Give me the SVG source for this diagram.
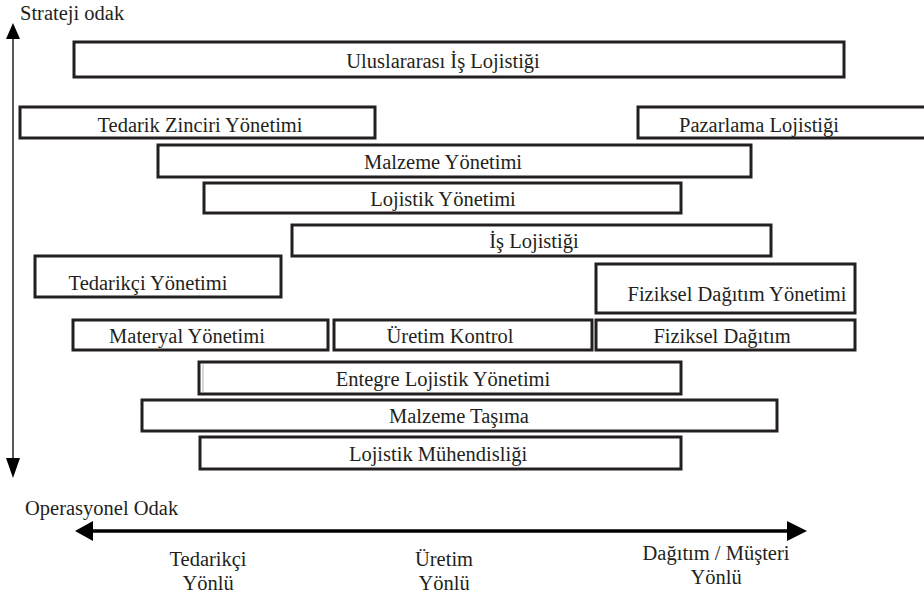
<svg xmlns="http://www.w3.org/2000/svg" width="924" height="595" viewBox="0 0 924 595">
<style>
.box{fill:none;stroke:#231f20;stroke-width:3}
text{font-family:"Liberation Serif",Tinos,"Times New Roman","DejaVu Serif",serif;font-size:20.5px;fill:#231f20}
.t{text-anchor:middle}
</style>
<g id="connectors">
<line x1="13" y1="38" x2="13" y2="458" stroke="#231f20" stroke-width="1.5"/>
<path d="M13,23 L6,39 L20,39 z" fill="#000"/>
<path d="M13,478 L6,458 L20,458 z" fill="#000"/>
<line x1="90" y1="531" x2="790" y2="531" stroke="#000" stroke-width="3.5"/>
<path d="M75,531 L93,521 L93,541 z" fill="#000"/>
<path d="M807,531 L787,521 L787,541 z" fill="#000"/>
</g>
<text x="20" y="20">Strateji odak</text>
<text x="25" y="515">Operasyonel Odak</text>
<g id="n1"><rect class="box" x="74" y="42" width="770" height="35"/><text class="t" x="443" y="68">Uluslararası İş Lojistiği</text></g>
<g id="n2"><rect class="box" x="20" y="107" width="355" height="31"/><text class="t" x="200" y="132">Tedarik Zinciri Yönetimi</text></g>
<g id="n3"><rect class="box" x="638" y="107" width="300" height="31"/><text class="t" x="759" y="132">Pazarlama Lojistiği</text></g>
<g id="n4"><rect class="box" x="158" y="145" width="593" height="32"/><text class="t" x="443" y="169">Malzeme Yönetimi</text></g>
<g id="n5"><rect class="box" x="204" y="183" width="477" height="30"/><text class="t" x="443" y="206">Lojistik Yönetimi</text></g>
<g id="n6"><rect class="box" x="292" y="225" width="479" height="31"/><text class="t" x="534" y="248">İş Lojistiği</text></g>
<g id="n7"><rect class="box" x="35" y="256" width="246" height="41"/><text class="t" x="148" y="290">Tedarikçi Yönetimi</text></g>
<g id="n8"><rect class="box" x="596" y="264" width="259" height="49"/><text class="t" x="737" y="301">Fiziksel Dağıtım Yönetimi</text></g>
<g id="n9"><rect class="box" x="73" y="320" width="255" height="30"/><text class="t" x="187" y="343">Materyal Yönetimi</text></g>
<g id="n10"><rect class="box" x="334" y="320" width="258" height="30"/><text class="t" x="450" y="343">Üretim Kontrol</text></g>
<g id="n11"><rect class="box" x="596" y="320" width="259" height="30"/><text class="t" x="722" y="343">Fiziksel Dağıtım</text></g>
<g id="n12"><rect class="box" x="199" y="362" width="482" height="32"/><line x1="203" y1="364" x2="203" y2="392" stroke="#ccc" stroke-width="1.5"/><text class="t" x="443" y="386">Entegre Lojistik Yönetimi</text></g>
<g id="n13"><rect class="box" x="142" y="400" width="635" height="31"/><text class="t" x="459" y="423">Malzeme Taşıma</text></g>
<g id="n14"><rect class="box" x="200" y="437" width="481" height="32"/><text class="t" x="438" y="461">Lojistik Mühendisliği</text></g>
<g id="axis-labels">
<text class="t" x="208" y="566">Tedarikçi</text>
<text class="t" x="208" y="590">Yönlü</text>
<text class="t" x="444" y="566">Üretim</text>
<text class="t" x="444" y="590">Yönlü</text>
<text class="t" x="716" y="560">Dağıtım / Müşteri</text>
<text class="t" x="716" y="584">Yönlü</text>
</g>
</svg>
